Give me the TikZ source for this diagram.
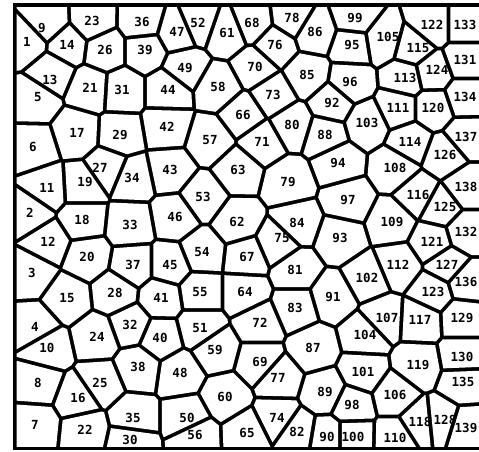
\documentclass[tikz,border=0pt]{standalone}
\usepackage{fontspec}
\newfontfamily\lblfont{DejaVu Sans Mono}
\begin{document}
\begin{tikzpicture}[x=1pt,y=-1pt,
  lbl/.style={font=\lblfont\bfseries\fontsize{12.5}{12.5}\selectfont, inner sep=0pt}]
\useasboundingbox (0,0) rectangle (479,451);
\fill[white] (0,0) rectangle (479,451);
\fill[black] (12.5,3) rectangle (495,450);
\def\seeds{1/27/42, 2/30/213, 3/32/273, 4/35/327, 5/34/100, 6/33/147, 7/35/425, 8/38/383, 9/47/23, 10/47/348,
11/47/188, 12/48/242, 13/52/72, 14/67/45, 15/67/298, 16/78/398, 17/77/133, 18/82/220, 19/82/186, 20/87/257,
21/90/88, 22/85/430, 23/92/21, 24/97/337, 25/100/383, 26/105/50, 27/108/168, 28/115/293, 29/120/135, 30/130/440,
31/122/90, 32/130/325, 33/130/225, 34/132/178, 35/133/418, 36/142/22, 37/133/265, 38/138/367, 39/145/50, 40/160/338,
41/161/298, 42/167/127, 43/170/170, 44/168/90, 45/170/265, 46/175/217, 47/177/32, 48/180/373, 49/185/68, 50/187/418,
51/200/328, 52/198/23, 53/203/197, 54/202/252, 55/200/292, 56/195/435, 57/210/140, 58/218/87, 59/215/350, 60/225/397,
61/227/33, 62/237/222, 63/238/170, 64/245/292, 65/247/433, 66/243/115, 67/247/257, 68/252/23, 69/260/362, 70/255/67,
71/262/142, 72/260/323, 73/273/95, 74/277/418, 75/277/244, 76/275/45, 77/278/378, 78/292/18, 79/288/182, 80/292/125,
81/295/270, 82/297/432, 83/295/308, 84/297/223, 85/307/75, 86/315/32, 87/313/348, 88/325/135, 89/325/392, 90/327/437,
91/333/297, 92/332/103, 93/340/238, 94/338/163, 95/352/45, 96/350/82, 97/348/200, 98/352/405, 99/355/18, 100/353/437,
101/363/372, 102/367/278, 103/367/123, 104/365/335, 105/383/40, 106/395/395, 107/383/318, 108/395/168, 109/392/222, 110/395/438,
111/398/108, 112/398/265, 113/405/78, 114/410/142, 115/413/48, 116/418/195, 117/420/320, 118/420/422, 119/418/365, 120/433/108,
121/432/242, 122/432/25, 123/433/292, 124/432/72, 125/440/207, 126/445/155, 127/447/265, 128/440/420, 129/462/318, 130/462/357,
131/465/60, 132/466/232, 133/465/25, 134/465/97, 135/463/382, 136/466/282, 137/466/137, 138/466/187, 139/466/428}
\def\labels{1/27/42, 2/30/213, 3/32/273, 4/35/327, 5/38/97, 6/33/147, 7/35/425, 8/38/383, 9/42/28, 10/47/348,
11/47/188, 12/48/242, 13/50/80, 14/67/45, 15/67/298, 16/78/398, 17/77/133, 18/82/220, 19/85/182, 20/87/257,
21/90/88, 22/85/430, 23/92/21, 24/97/337, 25/100/383, 26/105/50, 27/100/168, 28/115/293, 29/120/135, 30/130/440,
31/122/90, 32/130/325, 33/130/225, 34/132/178, 35/133/418, 36/142/22, 37/133/265, 38/138/367, 39/145/50, 40/160/338,
41/161/298, 42/167/127, 43/170/170, 44/168/90, 45/170/265, 46/175/217, 47/177/32, 48/180/373, 49/185/68, 50/187/418,
51/200/328, 52/198/23, 53/203/197, 54/202/252, 55/200/292, 56/195/435, 57/210/140, 58/218/87, 59/215/350, 60/225/397,
61/227/33, 62/237/222, 63/238/170, 64/245/292, 65/247/433, 66/243/115, 67/247/257, 68/252/23, 69/260/362, 70/255/67,
71/262/142, 72/260/323, 73/273/95, 74/277/418, 75/282/238, 76/275/45, 77/278/378, 78/292/18, 79/288/182, 80/292/125,
81/295/270, 82/297/432, 83/295/308, 84/297/223, 85/307/75, 86/315/32, 87/313/348, 88/325/135, 89/325/392, 90/327/437,
91/333/297, 92/332/103, 93/340/238, 94/338/163, 95/352/45, 96/350/82, 97/348/200, 98/352/405, 99/355/18, 100/353/437,
101/363/372, 102/367/278, 103/367/123, 104/365/335, 105/388/37, 106/395/395, 107/387/318, 108/395/168, 109/392/222, 110/395/438,
111/398/108, 112/398/265, 113/405/78, 114/410/142, 115/418/48, 116/418/195, 117/420/320, 118/420/422, 119/418/365, 120/433/108,
121/432/242, 122/432/25, 123/433/292, 124/437/70, 125/445/207, 126/445/155, 127/447/265, 128/445/420, 129/462/318, 130/462/357,
131/465/60, 132/466/232, 133/465/25, 134/465/97, 135/463/382, 136/466/282, 137/466/137, 138/466/187, 139/466/428}
\foreach \i/\xi/\yi in \seeds {
  \begin{scope}
    \clip (16.5,7) rectangle (492,446);
    \foreach \j/\xj/\yj in \seeds {
      \ifnum\j=\i\relax\else
        \pgfmathparse{and(abs(\xj-\xi)<95,abs(\yj-\yi)<95)}
        \ifdim\pgfmathresult pt>0.5pt
          \pgfmathsetmacro\dd{veclen(\xj-\xi,\yj-\yi)}
          \pgfmathsetmacro\ux{(\xj-\xi)/\dd}
          \pgfmathsetmacro\uy{(\yj-\yi)/\dd}
          \pgfmathsetmacro\mx{(\xi+\xj)/2-1.9*(\ux)}
          \pgfmathsetmacro\my{(\yi+\yj)/2-1.9*(\uy)}
          \clip ({\mx-1500*(\uy)},{\my+1500*(\ux)}) -- ({\mx+1500*(\uy)},{\my-1500*(\ux)}) -- ({\mx-1500*(\ux)},{\my-1500*(\uy)}) -- cycle;
        \fi
      \fi
    }
    \fill[white] (0,0) rectangle (500,451);
  \end{scope}
}
\foreach \i/\xi/\yi in \labels { \node[lbl] (n\i) at (\xi,\yi) {\i}; }
\end{tikzpicture}
\end{document}
